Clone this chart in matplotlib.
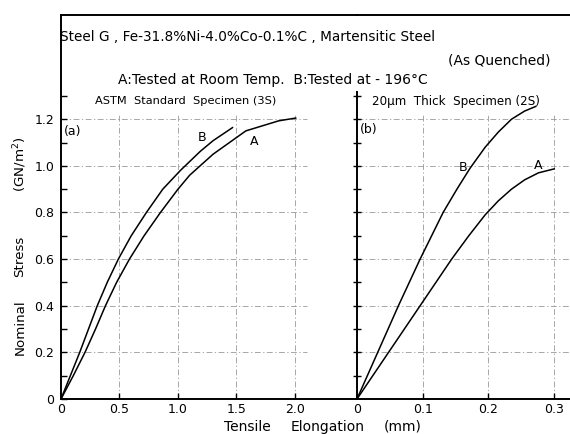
import numpy as np
import matplotlib
matplotlib.use("Agg")
import matplotlib.pyplot as plt

# (a) ASTM standard specimen, elongation [mm] vs stress [GN/m2]
a_A_x = [0, 0.105, 0.205, 0.295, 0.38, 0.475, 0.585, 0.71, 0.85, 1.0, 1.1, 1.3, 1.58, 1.86, 2.006]
a_A_y = [0, 0.1, 0.2, 0.3, 0.4, 0.5, 0.6, 0.7, 0.8, 0.9, 0.96, 1.05, 1.15, 1.193, 1.205]
a_B_x = [0, 0.08, 0.16, 0.235, 0.31, 0.395, 0.49, 0.60, 0.73, 0.87, 1.02, 1.19, 1.30, 1.466]
a_B_y = [0, 0.1, 0.2, 0.3, 0.4, 0.5, 0.6, 0.7, 0.8, 0.9, 0.98, 1.062, 1.108, 1.164]
# (b) 20um thick specimen
b_A_x = [0, 0.048, 0.096, 0.144, 0.17, 0.195, 0.215, 0.235, 0.255, 0.276, 0.30]
b_A_y = [0, 0.2, 0.4, 0.6, 0.7, 0.79, 0.85, 0.9, 0.94, 0.97, 0.987]
b_B_x = [0, 0.0315, 0.063, 0.096, 0.131, 0.152, 0.172, 0.195, 0.215, 0.235, 0.255, 0.272]
b_B_y = [0, 0.2, 0.4, 0.6, 0.8, 0.9, 0.99, 1.08, 1.145, 1.2, 1.235, 1.255]

a_xticks = [0, 0.5, 1.0, 1.5, 2.0]
a_xlabels = ["0", "0.5", "1.0", "1.5", "2.0"]
b_xticks = [0, 0.1, 0.2, 0.3]
b_xlabels = ["0", "0.1", "0.2", "0.3"]
yticks = [0, 0.2, 0.4, 0.6, 0.8, 1.0, 1.2]
ylabels = ["0", "0.2", "0.4", "0.6", "0.8", "1.0", "1.2"]

W, H = 570, 434
fig = plt.figure(figsize=(W / 100, H / 100), dpi=100)

def box(x0, x1, ytop):
    return [x0 / W, 1 - 399 / H, (x1 - x0) / W, (399 - ytop) / H]

ytop = 1.647
axa = fig.add_axes(box(61, 357, 15))
axb = fig.add_axes(box(357, 570, 15))
axa.set_xlim(0, 2.53)
axb.set_xlim(0, 0.324)
for ax in (axa, axb):
    ax.set_ylim(0, ytop)
    ax.patch.set_alpha(0)
    ax.spines["right"].set_visible(False)
    for s in ax.spines.values():
        s.set_linewidth(1.4)

gkw = dict(colors="0.6", linestyles=(0, (7, 3, 1.5, 3)), linewidths=0.6, zorder=0)
# panel (a)
axa.vlines(a_xticks[1:], 0, 1.22, **gkw)
axa.hlines(yticks[1:], 0, 2.1, **gkw)
axa.plot(a_A_x, a_A_y, color="black", lw=1.1)
axa.plot(a_B_x, a_B_y, color="black", lw=1.1)
axa.set_xticks(a_xticks, a_xlabels, fontsize=9)
axa.set_yticks(yticks, ylabels, fontsize=9)
axa.set_yticks(np.arange(0.1, 1.4, 0.2), minor=True)
axa.tick_params(axis="y", which="both", direction="in", length=4, width=1, pad=5)
axa.tick_params(axis="x", direction="in", length=4, width=1, pad=3)
axa.text(1.205, 1.12, "B", fontsize=9, ha="center", va="center")
axa.text(1.65, 1.105, "A", fontsize=9, ha="center", va="center")
axa.text(0.025, 1.148, "(a)", fontsize=9, ha="left", va="center")

# panel (b)
axb.spines["left"].set_bounds(0, 1.316)
axb.vlines(b_xticks[1:], 0, 1.22, **gkw)
axb.hlines(yticks[1:], 0, 0.324, **gkw)
axb.plot(b_A_x, b_A_y, color="black", lw=1.1)
axb.plot(b_B_x, b_B_y, color="black", lw=1.1)
axb.set_xticks(b_xticks, b_xlabels, fontsize=9)
axb.set_yticks(np.arange(0.1, 1.35, 0.1))
axb.tick_params(axis="y", direction="inout", length=6, width=1, labelleft=False)
axb.tick_params(axis="x", direction="in", length=4, width=1, pad=3)
axb.text(0.161, 0.995, "B", fontsize=9, ha="center", va="center")
axb.text(0.275, 1.0, "A", fontsize=9, ha="center", va="center")
axb.text(0.005, 1.157, "(b)", fontsize=9, ha="left", va="center")

def ftext(px, py, s, **kw):
    fig.text(px / W, 1 - py / H, s, va="center", **kw)

ftext(60, 37, "Steel G , Fe-31.8%Ni-4.0%Co-0.1%C , Martensitic Steel", fontsize=9.8)
ftext(550, 60, "(As Quenched)", fontsize=10, ha="right")
ftext(118, 80, "A:Tested at Room Temp.  B:Tested at - 196°C", fontsize=10)
ftext(95, 101, "ASTM  Standard  Specimen (3S)", fontsize=8.2)
ftext(372, 101, "20μm  Thick  Specimen (2S)", fontsize=8.6)
for py, s in [(327, "Nominal"), (256, "Stress"), (164, "(GN/m$^2$)")]:
    ftext(20, py, s, fontsize=9.6, rotation=90, ha="center")
for px, s in [(247, "Tensile"), (328, "Elongation"), (403, "(mm)")]:
    ftext(px, 427, s, fontsize=10, ha="center")

fig.savefig("out.png", dpi=100)
